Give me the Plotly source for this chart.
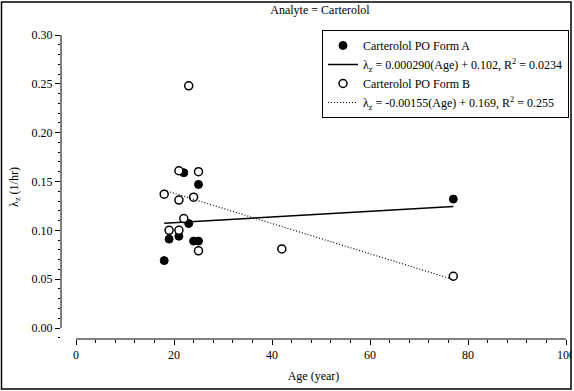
import plotly.graph_objects as go

# Data
age_a = [18, 19, 21, 22, 23, 24, 25, 25, 77]
lam_a = [0.069, 0.091, 0.094, 0.159, 0.107, 0.089, 0.089, 0.147, 0.132]

age_b = [18, 19, 21, 21, 21, 22, 23, 24, 25, 25, 42, 77]
lam_b = [0.137, 0.100, 0.161, 0.131, 0.100, 0.112, 0.248, 0.134, 0.160, 0.079, 0.081, 0.053]

fit_slopes = [0.000290, -0.00155]
fit_intercepts = [0.102, 0.169]
fit_r2 = ["0.0234", "0.255"]

x_ticks = [0, 20, 40, 60, 80, 100]
y_ticks = [0.00, 0.05, 0.10, 0.15, 0.20, 0.25, 0.30]

W, H = 574, 391
L, R, T, B = 61, 8, 35, 52
pw, ph = W - L - R, H - T - B

def px2paper_x(px):
    return (px - L) / pw

def py2paper_y(py):
    return (H - B - py) / ph

FONT = "Liberation Serif"

fig = go.Figure()

def fit_line(xs, k):
    xmin, xmax = min(xs), max(xs)
    return [xmin, xmax], [fit_slopes[k] * xmin + fit_intercepts[k], fit_slopes[k] * xmax + fit_intercepts[k]]

fig.add_trace(go.Scatter(x=age_a, y=lam_a, mode="markers", name="Carterolol PO Form A",
                         marker=dict(symbol="circle", size=8, color="black", line=dict(color="black", width=1))))
fx, fy = fit_line(age_a, 0)
fig.add_trace(go.Scatter(x=fx, y=fy, mode="lines",
                         name="λ<sub>z</sub> = %.6f(Age) + %.3f, R<sup>2</sup> = %s" % (fit_slopes[0], fit_intercepts[0], fit_r2[0]),
                         line=dict(color="black", width=1.5)))
fig.add_trace(go.Scatter(x=age_b, y=lam_b, mode="markers", name="Carterolol PO Form B",
                         marker=dict(symbol="circle", size=8, color="white", line=dict(color="black", width=1.5))))
fx, fy = fit_line(age_b, 1)
fig.add_trace(go.Scatter(x=fx, y=fy, mode="lines",
                         name="λ<sub>z</sub> = %.5f(Age) + %.3f, R<sup>2</sup> = %s" % (fit_slopes[1], fit_intercepts[1], fit_r2[1]),
                         line=dict(color="black", width=1.2, dash="1px,2px")))

# axis ranges so that 0 sits inside the plot area (detached axes)
x0_px, x100_px = 76, 566
a = (x0_px - L) / (x100_px - x0_px) * 100
y0_px, y30_px = 328, 35
bpad = (H - B - y0_px) / (y0_px - y30_px) * 0.30

fig.update_layout(
    width=W, height=H,
    margin=dict(l=L, r=R, t=T, b=B, autoexpand=False),
    paper_bgcolor="white", plot_bgcolor="white",
    font=dict(family=FONT, size=12, color="black"),
    showlegend=True,
    title=dict(text="Analyte = Carterolol", x=px2paper_x(320), xref="paper", xanchor="center",
               y=1 - 10 / H, yanchor="middle", font=dict(family=FONT, size=12, color="black")),
    xaxis=dict(range=[-a, 100], tickvals=x_ticks, ticktext=[str(v) for v in x_ticks],
               showgrid=False, zeroline=False, showline=False,
               ticks="outside", ticklen=5, tickcolor="black", tickwidth=1,
               ticklabeloverflow="allow",
               minor=dict(dtick=4, tick0=0, ticks="outside", ticklen=3, tickcolor="black", showgrid=False),
               title=dict(text="Age (year)", standoff=10, font=dict(family=FONT, size=12)),
               tickfont=dict(family=FONT, size=12)),
    yaxis=dict(range=[-bpad, 0.30], tickvals=y_ticks, tickformat=".2f",
               showgrid=False, zeroline=False, showline=False,
               ticks="outside", ticklen=5, tickcolor="black", tickwidth=1,
               minor=dict(dtick=0.01, tick0=0, ticks="outside", ticklen=2, tickcolor="black", showgrid=False),
               title=dict(text="λ<sub>z</sub> (1/hr)", standoff=10, font=dict(family=FONT, size=12)),
               tickfont=dict(family=FONT, size=12)),
    legend=dict(x=px2paper_x(569), y=py2paper_y(30), xanchor="right", yanchor="top",
                bgcolor="white", bordercolor="black", borderwidth=1,
                font=dict(family=FONT, size=12), tracegroupgap=0, itemwidth=30,
                traceorder="normal"),
)

shapes = [
    # y axis line
    dict(type="line", xref="paper", yref="y", x0=0, x1=0, y0=0, y1=0.30, line=dict(color="black", width=1)),
    # x axis line
    dict(type="line", xref="x", yref="paper", x0=0, x1=100, y0=0, y1=0, line=dict(color="black", width=1)),
    # outer border
    dict(type="rect", xref="paper", yref="paper",
         x0=px2paper_x(1.5), x1=px2paper_x(571), y0=py2paper_y(389), y1=py2paper_y(2),
         line=dict(color="black", width=1.5), fillcolor="rgba(0,0,0,0)"),
    # white strip beyond right border (reference clips there)
    dict(type="rect", xref="paper", yref="paper", layer="above",
         x0=px2paper_x(572), x1=px2paper_x(580), y0=py2paper_y(395), y1=py2paper_y(-5),
         line=dict(width=0), fillcolor="white"),
]
fig.update_layout(shapes=shapes)

fig.write_html("out.html", config={"displayModeBar": False},
               post_script="document.body.style.margin='0px';document.body.style.overflow='hidden';")
